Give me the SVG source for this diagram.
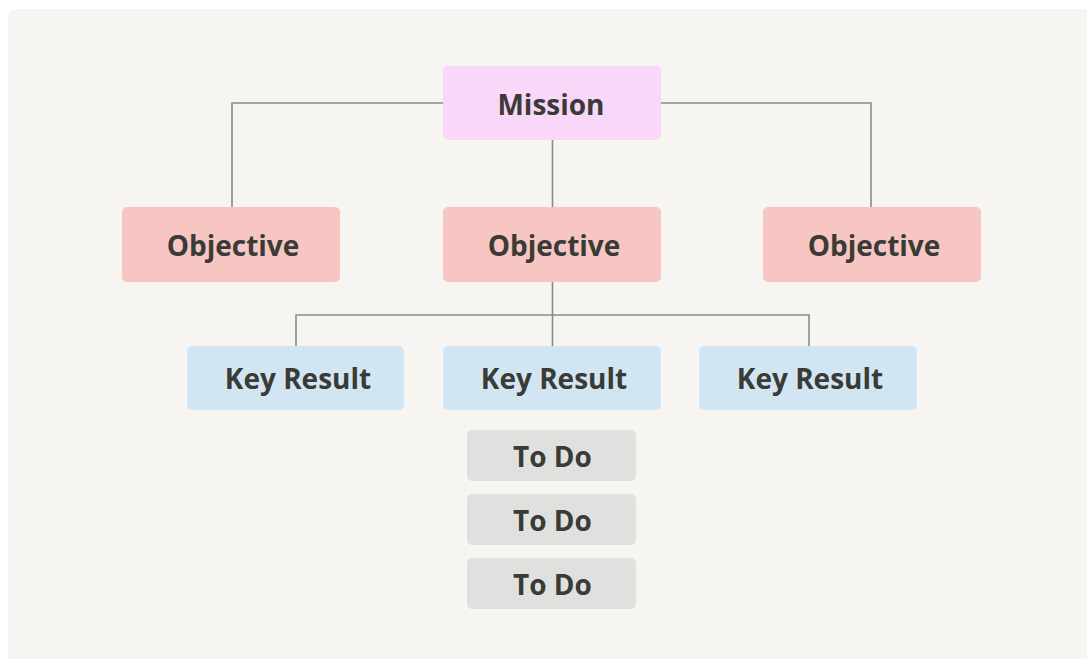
<svg xmlns="http://www.w3.org/2000/svg" width="1087" height="659" viewBox="0 0 1087 659">
<style>
.bg{fill:#f6f5f1}
.mission{fill:#f8d7f8}
.obj{fill:#f7c6c3}
.kr{fill:#d2e5f3}
.todo{fill:#e0e0df}
.lbl{font-family:"Open Sans","Liberation Sans",sans-serif;font-weight:bold;font-size:28px;fill:#3a3a36;text-anchor:middle;font-variant-ligatures:none}
.conn{fill:none;stroke:#8a8a86;stroke-width:1.6}
</style>
<rect width="1087" height="659" fill="#ffffff"/>
<rect class="bg" x="8" y="9" width="1100" height="680" rx="8"/>
<g id="connectors">
<path class="conn" d="M443 103 H232 V207"/>
<path class="conn" d="M661 103 H871 V207"/>
<path class="conn" d="M552.5 140 V207"/>
<path class="conn" d="M552.5 282 V346"/>
<path class="conn" d="M296 346 V315 H809 V346"/>
</g>
<g id="mission"><rect class="mission" x="443" y="66" width="218" height="74" rx="5"/><text class="lbl" x="551" y="115">Mission</text></g>
<g id="objective1"><rect class="obj" x="122" y="207" width="218" height="75" rx="5"/><text class="lbl" x="233" y="256">Objective</text></g>
<g id="objective2"><rect class="obj" x="443" y="207" width="218" height="75" rx="5"/><text class="lbl" x="554" y="256">Objective</text></g>
<g id="objective3"><rect class="obj" x="763" y="207" width="218" height="75" rx="5"/><text class="lbl" x="874" y="256">Objective</text></g>
<g id="kr1"><rect class="kr" x="187" y="346" width="217" height="64" rx="5"/><text class="lbl" x="298" y="389">Key Result</text></g>
<g id="kr2"><rect class="kr" x="443" y="346" width="218" height="64" rx="5"/><text class="lbl" x="554" y="389">Key Result</text></g>
<g id="kr3"><rect class="kr" x="699" y="346" width="218" height="64" rx="5"/><text class="lbl" x="810" y="389">Key Result</text></g>
<g id="todo1"><rect class="todo" x="467" y="430" width="169" height="51" rx="5"/><text class="lbl" x="552.5" y="467">To Do</text></g>
<g id="todo2"><rect class="todo" x="467" y="494" width="169" height="51" rx="5"/><text class="lbl" x="552.5" y="531">To Do</text></g>
<g id="todo3"><rect class="todo" x="467" y="558" width="169" height="51" rx="5"/><text class="lbl" x="552.5" y="595">To Do</text></g>
</svg>
